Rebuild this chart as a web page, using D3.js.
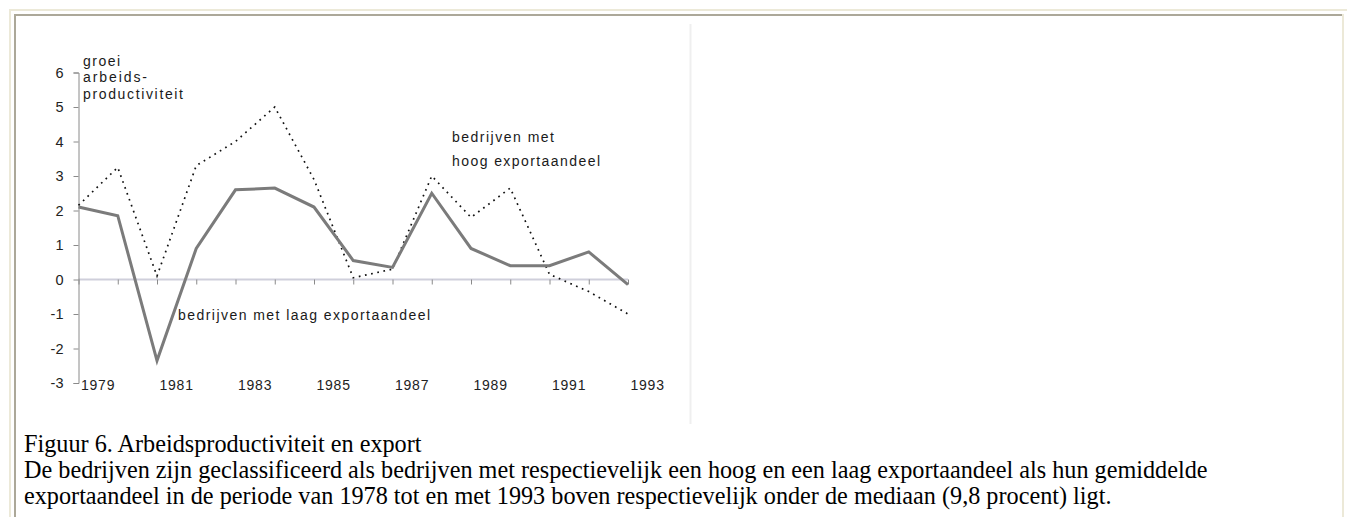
<!DOCTYPE html>
<html>
<head>
<meta charset="utf-8">
<script src="https://cdn.jsdelivr.net/npm/d3@7/dist/d3.min.js"></script>
<style>
  body { margin: 0; background: #fff; }
  svg { display: block; }
</style>
</head>
<body>
<svg id="chart" width="1347" height="517"></svg>
<script>
// data
const years = ["1979","1980","1981","1982","1983","1984","1985","1986","1987","1988","1989","1990","1991","1992","1993"];
const yearLabels = ["1979","1981","1983","1985","1987","1989","1991","1993"];
const lowExport  = [2.1, 1.85, -2.35, 0.9, 2.6, 2.65, 2.1, 0.55, 0.35, 2.5, 0.9, 0.4, 0.4, 0.8, -0.15];
const highExport = [2.15, 3.25, 0.1, 3.3, 4.0, 5.0, 2.9, 0.05, 0.3, 3.0, 1.8, 2.65, 0.15, -0.35, -1.0];
const yTicks = [-3, -2, -1, 0, 1, 2, 3, 4, 5, 6];
const captionLines = [
  "Figuur 6. Arbeidsproductiviteit en export",
  "De bedrijven zijn geclassificeerd als bedrijven met respectievelijk een hoog en een laag exportaandeel als hun gemiddelde",
  "exportaandeel in de periode van 1978 tot en met 1993 boven respectievelijk onder de mediaan (9,8 procent) ligt."
];

var svg = d3.select("#chart");

// table frame of the page
var frame = svg.append("g");
frame.append("line").attr("x1", 9).attr("y1", 10).attr("x2", 1347).attr("y2", 10)
  .attr("stroke", "#ece9d8").attr("stroke-width", 2);
frame.append("line").attr("x1", 10).attr("y1", 9).attr("x2", 10).attr("y2", 517)
  .attr("stroke", "#ece9d8").attr("stroke-width", 2);
frame.append("line").attr("x1", 1343).attr("y1", 14).attr("x2", 1343).attr("y2", 517)
  .attr("stroke", "#ece9d8").attr("stroke-width", 2);
frame.append("line").attr("x1", 14).attr("y1", 15).attr("x2", 1342).attr("y2", 15)
  .attr("stroke", "#aca899").attr("stroke-width", 2);
frame.append("line").attr("x1", 15).attr("y1", 14).attr("x2", 15).attr("y2", 517)
  .attr("stroke", "#aca899").attr("stroke-width", 2);
// faint right edge of the chart picture
frame.append("line").attr("x1", 690.5).attr("y1", 24).attr("x2", 690.5).attr("y2", 424)
  .attr("stroke", "#efefef").attr("stroke-width", 2);

// scales
var x = d3.scalePoint().domain(years).range([78.5, 628]);
var y = d3.scaleLinear().domain([-3, 6]).range([383, 72.5]);

var font = "'Liberation Sans', Arial, sans-serif";

// zero line with small ticks
svg.append("line")
  .attr("x1", x(years[0])).attr("x2", x(years[years.length - 1]))
  .attr("y1", y(0)).attr("y2", y(0))
  .attr("stroke", "#cfcfdb").attr("stroke-width", 2);

var xAxis = svg.append("g")
  .attr("transform", "translate(0," + y(0) + ")")
  .call(d3.axisBottom(x).tickSize(5).tickFormat(""));
xAxis.select(".domain").remove();
xAxis.selectAll("line").attr("stroke", "#8a8a8a");

// y axis, plain hyphen for negatives like the original
var yAxis = svg.append("g")
  .attr("transform", "translate(" + x(years[0]) + ",0)")
  .call(d3.axisLeft(y).tickValues(yTicks).tickSize(5).tickPadding(10)
    .tickFormat(function(d) { return String(d); }));
yAxis.select(".domain").attr("stroke", "#8a8a8a");
yAxis.selectAll("line").attr("stroke", "#8a8a8a");
yAxis.selectAll("text")
  .style("font-family", font).style("font-size", "14.5px").attr("fill", "#222");

// year labels along the bottom
svg.selectAll(".yearlabel")
  .data(yearLabels)
  .enter()
  .append("text")
    .attr("class", "yearlabel")
    .attr("x", function(d) { return x(d) + x.step() / 2; })
    .attr("y", 390)
    .attr("text-anchor", "middle")
    .style("font-family", font).style("font-size", "14px").style("letter-spacing", "0.8px")
    .attr("fill", "#222")
    .text(function(d) { return d; });

// lines
var line = d3.line()
  .x(function(d, i) { return x(years[i]); })
  .y(function(d) { return y(d); });

svg.append("path")
  .datum(highExport)
  .attr("d", line)
  .attr("fill", "none")
  .attr("stroke", "#111")
  .attr("stroke-width", 1.7)
  .attr("stroke-dasharray", "1.7,4.6");

svg.append("path")
  .datum(lowExport)
  .attr("d", line)
  .attr("fill", "none")
  .attr("stroke", "#7b7b7b")
  .attr("stroke-width", 3);

// annotations
var notes = [
  { text: "groei", x: 83, y: 65.5, w: 37 },
  { text: "arbeids-", x: 83, y: 82, w: 64 },
  { text: "productiviteit", x: 83, y: 98.5, w: 100 },
  { text: "bedrijven met", x: 452, y: 142, w: 102 },
  { text: "hoog exportaandeel", x: 452, y: 166, w: 148 },
  { text: "bedrijven met laag exportaandeel", x: 178, y: 320, w: 252 }
];
svg.selectAll(".note")
  .data(notes)
  .enter()
  .append("text")
    .attr("class", "note")
    .attr("x", function(d) { return d.x; })
    .attr("y", function(d) { return d.y; })
    .attr("textLength", function(d) { return d.w; })
    .attr("lengthAdjust", "spacing")
    .style("font-family", font).style("font-size", "14px")
    .attr("fill", "#1a1a1a")
    .text(function(d) { return d.text; });

// caption below the picture, sized so the long line ends where it does in the page
var cap = svg.append("g").style("font-family", "'Liberation Serif', 'Times New Roman', serif");
var capText = cap.selectAll("text")
  .data(captionLines)
  .enter()
  .append("text")
    .attr("x", 24)
    .attr("y", function(d, i) { return 452 + i * 26; })
    .style("font-size", "20px")
    .attr("fill", "#000")
    .text(function(d) { return d; });
var wide = capText.nodes()[1].getComputedTextLength();
var capSize = 20 * (1208 - 24) / wide;
capText.style("font-size", capSize + "px");
</script>
</body>
</html>
